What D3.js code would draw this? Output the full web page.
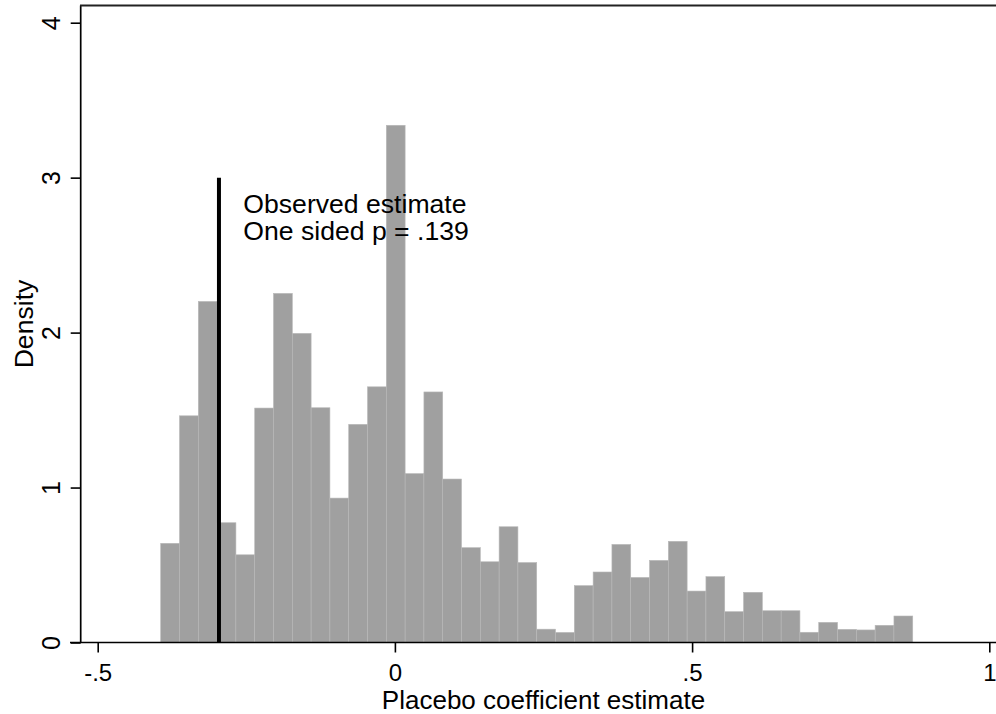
<!DOCTYPE html>
<html>
<head>
<meta charset="utf-8">
<script src="https://cdn.jsdelivr.net/npm/d3@7"></script>
<style>
  html, body { margin: 0; padding: 0; background: #fff; }
  svg { display: block; }
  text { font-family: "Liberation Sans", Arial, Helvetica, sans-serif; fill: #000; }
</style>
</head>
<body>
<svg id="chart" width="996" height="714"></svg>
<script>
// ---- Data ----
const binStart = -0.394;
const binWidth = 0.03163;
const densities = [0.640, 1.463, 2.201, 0.773, 0.566, 1.513, 2.253, 1.995, 1.515, 0.932,
                   1.408, 1.650, 3.338, 1.090, 1.617, 1.055, 0.612, 0.521, 0.747, 0.516,
                   0.086, 0.065, 0.367, 0.455, 0.633, 0.420, 0.530, 0.653, 0.332, 0.425,
                   0.199, 0.324, 0.205, 0.205, 0.066, 0.130, 0.085, 0.081, 0.111, 0.171];
const observedEstimate = -0.296;
const observedLineTop = 3;
const annotationLines = ["Observed estimate", "One sided p = .139"];
const xTicks = [-0.5, 0, 0.5, 1];
const xTickLabels = ["-.5", "0", ".5", "1"];
const yTicks = [0, 1, 2, 3, 4];
const yTickLabels = ["0", "1", "2", "3", "4"];
const xTitle = "Placebo coefficient estimate";
const yTitle = "Density";

// ---- Chart ----
const svg = d3.select("#chart");
const x = d3.scaleLinear().domain([-0.5, 1]).range([97.7, 989.3]);
const y = d3.scaleLinear().domain([0, 4]).range([642.5, 22.7]);

const bins = densities.map((d, i) => ({
  x0: binStart + i * binWidth,
  x1: binStart + (i + 1) * binWidth,
  v: d
}));

svg.append("g").selectAll("rect").data(bins).join("rect")
  .attr("x", d => x(d.x0))
  .attr("width", d => x(d.x1) - x(d.x0))
  .attr("y", d => y(d.v))
  .attr("height", d => y(0) - y(d.v))
  .attr("fill", "#a0a0a0")
  .attr("stroke", "#b8b8b8")
  .attr("stroke-width", 0.6);

// observed estimate line
svg.append("line")
  .attr("x1", x(observedEstimate)).attr("x2", x(observedEstimate))
  .attr("y1", y(0)).attr("y2", y(observedLineTop))
  .attr("stroke", "#000").attr("stroke-width", 4);

const FONT = "'Liberation Sans', Arial, Helvetica, sans-serif";

// X axis
const xAxis = d3.axisBottom(x).tickValues(xTicks)
  .tickFormat((d, i) => xTickLabels[i]).tickSize(10).tickSizeOuter(0);
const gx = svg.append("g").attr("transform", `translate(0,${y(0)})`).call(xAxis);
gx.select(".domain").remove();
gx.selectAll(".tick line").attr("stroke", "#000").attr("stroke-width", 1.6);
gx.selectAll(".tick text")
  .attr("y", 38).attr("dy", null)
  .style("font-size", "24px")
  .style("font-family", FONT);
svg.append("line").attr("x1", 70).attr("x2", 996)
  .attr("y1", y(0)).attr("y2", y(0))
  .attr("stroke", "#000").attr("stroke-width", 1.7);

// Y axis
const yAxis = d3.axisLeft(y).tickValues(yTicks)
  .tickFormat((d, i) => yTickLabels[i]).tickSize(10).tickSizeOuter(0);
const gy = svg.append("g").attr("transform", "translate(80.7,0)").call(yAxis);
gy.select(".domain").remove();
gy.selectAll(".tick line").attr("stroke", "#000").attr("stroke-width", 1.6);
gy.selectAll(".tick text")
  .attr("x", null).attr("dy", null).attr("y", null)
  .attr("text-anchor", "middle")
  .attr("transform", "translate(-20.7,0) rotate(-90)")
  .style("font-size", "25px")
  .style("font-family", FONT);
svg.append("line").attr("x1", 80.7).attr("x2", 80.7)
  .attr("y1", 5.5).attr("y2", y(0))
  .attr("stroke", "#000").attr("stroke-width", 1.7);
// top frame line
svg.append("line").attr("x1", 80).attr("x2", 996)
  .attr("y1", 5.5).attr("y2", 5.5)
  .attr("stroke", "#222").attr("stroke-width", 2);

// Titles
svg.append("text")
  .attr("x", (x.range()[0] + x.range()[1]) / 2).attr("y", 708.5)
  .attr("text-anchor", "middle").style("font-size", "26px")
  .text(xTitle);
svg.append("text")
  .attr("transform", `translate(33,${(5.5 + y(0)) / 2}) rotate(-90)`)
  .attr("text-anchor", "middle").style("font-size", "26.6px")
  .text(yTitle);

// Annotation
svg.append("g").selectAll("text").data(annotationLines).join("text")
  .attr("x", x(-0.255))
  .attr("y", (d, i) => y(2.77) + i * 27)
  .style("font-size", "26.6px")
  .text(d => d);
</script>
</body>
</html>
